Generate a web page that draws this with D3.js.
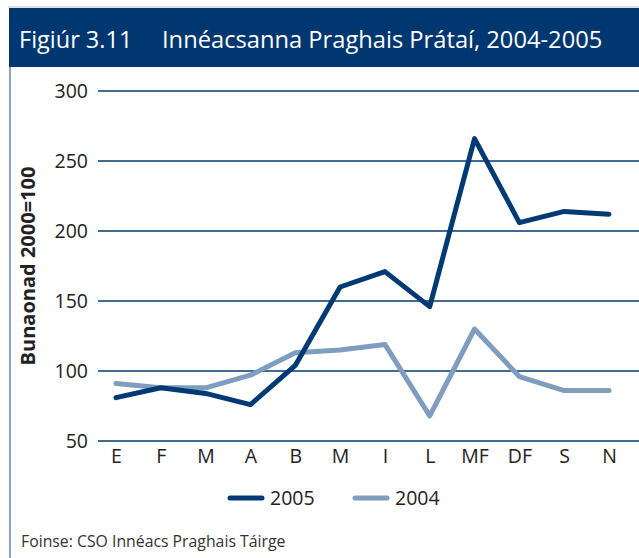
<!DOCTYPE html>
<html>
<head>
<meta charset="utf-8">
<script src="https://cdn.jsdelivr.net/npm/d3@7"></script>
<style>
  body { margin: 0; background: #fff; }
  svg text { font-family: "Open Sans", "Noto Sans", sans-serif; }
</style>
</head>
<body>
<div id="chart"></div>
<script>
const svgWidth = 639;
const svgHeight = 558;

// months (Irish initials)
const months = ["E", "F", "M", "A", "B", "M", "I", "L", "MF", "DF", "S", "N"];
const series2005 = [81, 88, 84, 76, 104, 160, 171, 146, 266, 206, 214, 212];
const series2004 = [91, 88, 88, 97, 113, 115, 119, 68, 130, 96, 86, 86];
const yTicks = [50, 100, 150, 200, 250, 300];

const darkBlue = "#003a75";
const lightBlue = "#7f9dbe";

const margin = { top: 91, right: 0, bottom: 117, left: 98 };
const width = svgWidth - margin.left - margin.right;
const height = svgHeight - margin.top - margin.bottom;

const svg = d3.select("#chart")
  .append("svg")
  .attr("width", svgWidth)
  .attr("height", svgHeight);

// frame: top rule, header band, left rule
svg.append("line")
  .attr("x1", 8).attr("x2", svgWidth)
  .attr("y1", 7).attr("y2", 7)
  .attr("stroke", "#b9c3cf").attr("stroke-width", 1);

svg.append("rect")
  .attr("x", 9).attr("y", 8)
  .attr("width", svgWidth - 9).attr("height", 59)
  .attr("fill", "#003770");

svg.append("line")
  .attr("x1", 10).attr("x2", 10)
  .attr("y1", 67).attr("y2", svgHeight)
  .attr("stroke", "#6f8fbd").attr("stroke-width", 1.6);

svg.append("text")
  .attr("x", 19).attr("y", 48)
  .attr("fill", "#fff")
  .style("font-size", "23.5px")
  .text("Figiúr 3.11");

svg.append("text")
  .attr("x", 162).attr("y", 48)
  .attr("fill", "#fff")
  .style("font-size", "23.7px")
  .text("Innéacsanna Praghais Prátaí, 2004-2005");

const chartGroup = svg.append("g")
  .attr("transform", `translate(${margin.left}, ${margin.top})`);

const xScale = d3.scalePoint()
  .domain(d3.range(months.length))
  .range([18, 511]);

const yScale = d3.scaleLinear()
  .domain([50, 300])
  .range([height, 0]);

// gridlines
chartGroup.selectAll(".grid")
  .data(yTicks)
  .enter()
  .append("line")
  .attr("x1", 0).attr("x2", width)
  .attr("y1", d => yScale(d)).attr("y2", d => yScale(d))
  .attr("stroke", darkBlue)
  .attr("stroke-width", 1.3);

// y axis labels
const leftAxis = d3.axisLeft(yScale).tickValues(yTicks).tickSize(0).tickPadding(10);
const yAxis = chartGroup.append("g").call(leftAxis);
yAxis.select(".domain").remove();
yAxis.selectAll("text")
  .attr("fill", "#222")
  .style("font-size", "19.5px");

// x axis labels
const bottomAxis = d3.axisBottom(xScale).tickFormat(i => months[i]).tickSize(0).tickPadding(8);
const xAxis = chartGroup.append("g")
  .attr("transform", `translate(0, ${height})`)
  .call(bottomAxis);
xAxis.select(".domain").remove();
xAxis.selectAll("text")
  .attr("fill", "#222")
  .style("font-size", "19.5px");

// y title
svg.append("text")
  .attr("transform", "rotate(-90)")
  .attr("x", -266)
  .attr("y", 35)
  .attr("text-anchor", "middle")
  .attr("fill", "#222")
  .style("font-size", "20px")
  .style("font-weight", "bold")
  .text("Bunaonad 2000=100");

const line = d3.line()
  .x((d, i) => xScale(i))
  .y(d => yScale(d));

chartGroup.append("path")
  .datum(series2004)
  .attr("d", line)
  .attr("fill", "none")
  .attr("stroke", lightBlue)
  .attr("stroke-width", 5)
  .attr("stroke-linecap", "round")
  .attr("stroke-linejoin", "round");

chartGroup.append("path")
  .datum(series2005)
  .attr("d", line)
  .attr("fill", "none")
  .attr("stroke", darkBlue)
  .attr("stroke-width", 5)
  .attr("stroke-linecap", "round")
  .attr("stroke-linejoin", "round");

// legend
const legend = [
  { label: "2005", color: darkBlue, x: 230 },
  { label: "2004", color: lightBlue, x: 355 }
];
const legendGroup = svg.append("g");
legendGroup.selectAll("line")
  .data(legend)
  .enter()
  .append("line")
  .attr("x1", d => d.x).attr("x2", d => d.x + 32)
  .attr("y1", 498).attr("y2", 498)
  .attr("stroke", d => d.color)
  .attr("stroke-width", 5)
  .attr("stroke-linecap", "round");
legendGroup.selectAll("text")
  .data(legend)
  .enter()
  .append("text")
  .attr("x", d => d.x + 40)
  .attr("y", 505)
  .attr("fill", "#222")
  .style("font-size", "19.5px")
  .text(d => d.label);

svg.append("text")
  .attr("x", 21).attr("y", 547)
  .attr("fill", "#333")
  .style("font-size", "15.8px")
  .text("Foinse: CSO Innéacs Praghais Táirge");
</script>
</body>
</html>
